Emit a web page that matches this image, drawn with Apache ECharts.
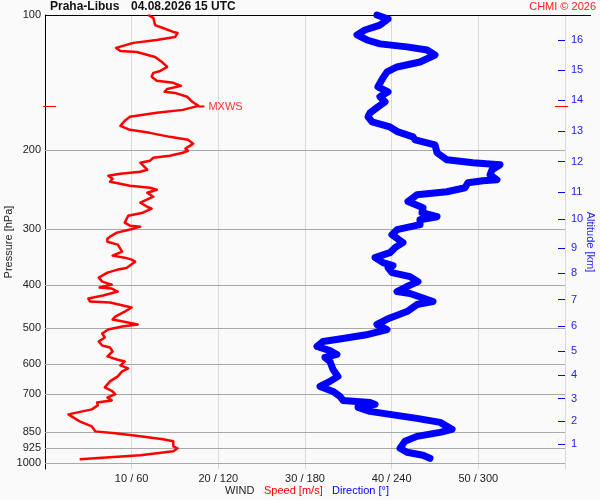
<!DOCTYPE html>
<html><head><meta charset="utf-8">
<script src="https://cdn.jsdelivr.net/npm/echarts@6/dist/echarts.min.js"></script>
<style>html,body{margin:0;padding:0;background:#fafafa}#c{width:600px;height:500px}</style>
</head><body><div id="c"></div>
<script>
// [pressure hPa, wind speed m/s]
const speedProfile = [[100,11.9],[101.5,12.5],[105.3,12.7],[106.9,13.6],[109.1,14.8],[109.7,15.3],[112.0,15.0],[113.7,12.9],[115.4,10.2],[118.4,8.2],[120.3,8.7],[120.9,10.6],[124.1,12.7],[127.3,13.5],[130.6,14.1],[133.3,13.3],[134.6,12.5],[137.4,12.3],[140.2,12.9],[141.7,14.8],[143.9,15.7],[146.2,14.1],[148.4,13.8],[149.2,15.0],[152.2,16.4],[156.2,17.0],[159.5,17.7],[162.8,15.9],[165.3,12.9],[168.7,9.8],[172.2,9.2],[176.7,8.7],[180.4,9.8],[183.2,12.1],[187.0,14.4],[189.9,16.5],[193.8,17.1],[196.8,16.5],[198.8,16.2],[200.8,16.5],[202.9,15.9],[206.0,14.4],[208.2,12.5],[211.5,12.1],[213.6,11.0],[215.8,10.8],[221.4,11.8],[223.7,11.0],[226.0,8.7],[228.4,7.3],[231.9,7.8],[235.5,7.5],[236.7,8.1],[240.4,9.8],[242.9,12.1],[245.4,12.9],[249.2,11.8],[254.3,12.5],[256.9,12.7],[262.2,11.0],[267.8,11.8],[270.5,12.3],[276.1,11.3],[280.4,9.6],[290.6,9.2],[295.1,9.8],[296.6,11.0],[299.7,10.2],[305.9,8.3],[312.3,7.5],[315.5,7.2],[320.4,7.2],[325.3,8.4],[337.2,8.9],[344.2,7.8],[347.8,9.2],[351.4,10.0],[355.0,10.4],[366.8,9.4],[369.8,8.4],[375.6,7.2],[385.4,6.2],[393.4,6.6],[399.4,7.7],[405.6,6.3],[407.7,7.7],[414.0,8.4],[422.5,6.7],[429.1,5.0],[435.8,5.2],[438.0,7.5],[449.4,10.0],[458.8,9.2],[470.8,8.1],[477.9,7.8],[482.9,9.0],[490.3,10.7],[495.4,8.9],[503.1,7.3],[513.5,6.6],[524.1,6.9],[535.0,6.2],[546.1,6.6],[551.7,7.5],[563.2,7.8],[577.7,7.2],[586.7,8.3],[592.8,9.2],[605.0,8.7],[614.4,9.6],[624.0,8.9],[640.1,8.4],[656.7,7.5],[677.3,6.9],[691.4,7.8],[702.1,8.1],[713.1,7.2],[724.1,7.7],[731.6,6.0],[742.9,6.1],[758.3,5.4],[766.1,5.2],[778.0,2.7],[786.0,2.5],[806.6,4.0],[827.6,5.4],[849.0,5.8],[857.6,8.1],[871.0,11.0],[884.4,13.6],[893.5,14.8],[916.7,14.8],[926.1,15.3],[940.3,14.8],[959.9,11.0],[969.7,7.5],[979.7,4.0]];

// [pressure hPa, wind direction deg]
const directionProfile = [[100,229.8],[102.1,237.5],[105.3,231.9],[108.0,221.5],[110.8,216.0],[113.7,222.9],[116.0,231.9],[117.8,250.6],[119.7,264.5],[122.8,270.0],[127.3,259.6],[130.6,243.7],[133.9,236.8],[138.1,234.0],[144.6,230.5],[148.4,237.5],[152.2,231.9],[156.2,235.4],[160.3,230.5],[165.3,225.0],[168.7,223.6],[173.1,226.4],[177.7,238.8],[182.3,244.4],[187.0,254.8],[189.9,256.2],[192.8,264.5],[194.8,270.0],[202.9,271.4],[210.4,278.3],[213.6,296.3],[215.8,315.0],[221.4,309.5],[227.2,308.1],[233.1,312.9],[234.3,303.2],[236.7,292.8],[242.9,290.8],[247.9,278.3],[251.7,257.5],[260.8,251.3],[269.1,261.7],[276.1,261.0],[281.8,271.4],[286.2,259.6],[293.6,259.6],[301.2,243.7],[309.0,240.2],[322.0,247.8],[330.4,242.3],[339.0,238.8],[347.8,228.5],[356.8,234.0],[362.4,240.9],[366.1,237.5],[375.6,240.2],[383.4,252.7],[393.4,258.2],[403.5,250.6],[414.0,243.7],[418.2,252.7],[435.8,268.6],[442.5,257.5],[458.8,250.6],[474.0,238.8],[490.3,229.8],[503.1,236.8],[516.1,223.6],[526.8,206.3],[535.0,192.5],[549.0,188.3],[560.5,197.3],[571.8,202.1],[580.7,193.8],[592.8,197.3],[617.5,199.4],[640.1,202.8],[656.7,197.3],[673.9,190.4],[691.4,199.4],[709.4,204.2],[724.1,206.3],[731.6,225.0],[739.1,228.5],[750.6,216.7],[766.1,225.0],[778.0,238.8],[794.1,257.5],[810.6,273.5],[840.2,281.8],[853.2,273.5],[871.0,257.5],[893.5,249.2],[926.1,245.8],[945.2,250.6],[959.9,261.7],[974.8,266.5]];

const pressureTicks = [100, 200, 300, 400, 500, 600, 700, 850, 925, 1000];
const speedTicks = [10, 20, 30, 40, 50];
const directionTicks = [60, 120, 180, 240, 300];
const altitudeKm = [1, 2, 3, 4, 5, 6, 7, 8, 9, 10, 11, 12, 13, 14, 15, 16];
const altitudePressure = [905.7, 806.2, 717.7, 636.8, 562.2, 494.6, 431.2, 376.1, 331.5, 285.7, 248.7, 212.5, 181.6, 154.7, 132.6, 113.7];

const FONT = '"Liberation Sans", Arial, Helvetica, sans-serif';
const P_MIN = 100, P_MAX = 1030;
const lg = Math.log10;
function nearestIdx(arr, v) {
  let bi = 0, bd = Infinity;
  arr.forEach((p, i) => { const d = Math.abs(lg(p) - v); if (d < bd) { bd = d; bi = i; } });
  return bi;
}

let mi = 0;
speedProfile.forEach((d, i) => { if (d[1] > speedProfile[mi][1]) mi = i; });

const chart = echarts.init(document.getElementById('c'));
chart.setOption({
  backgroundColor: '#fafafa',
  animation: false,
  textStyle: { fontFamily: FONT },
  grid: { left: 45, right: 35, top: 15, bottom: 31, containLabel: false, outerBoundsMode: 'none' },
  xAxis: [{
    type: 'value', min: 0, max: 60, interval: 10,
    axisLine: { show: false, onZero: false }, axisTick: { show: false },
    splitLine: { show: true, lineStyle: { color: '#d9d9d9', width: 1 } },
    axisLabel: {
      color: '#222', fontSize: 11, margin: 4, fontFamily: FONT,
      showMinLabel: false, showMaxLabel: false,
      formatter: v => { const i = speedTicks.indexOf(v); return i < 0 ? '' : speedTicks[i] + ' / ' + directionTicks[i]; }
    }
  }, {
    type: 'value', min: 0, max: 360, show: false, axisLine: { onZero: false }
  }],
  yAxis: [{
    type: 'value', inverse: true, min: lg(P_MIN), max: lg(P_MAX), position: 'left',
    axisLine: { show: true, onZero: false, lineStyle: { color: '#000', width: 1 } },
    axisTick: { show: false },
    splitLine: { show: false },
    axisLabel: {
      color: '#222', fontSize: 11, margin: 4, fontFamily: FONT,
      customValues: pressureTicks.map(lg),
      formatter: v => String(pressureTicks[nearestIdx(pressureTicks, v)])
    },
    name: 'Pressure [hPa]', nameLocation: 'middle', nameRotate: 90, nameGap: 31, nameMoveOverlap: false,
    nameTextStyle: { color: '#222', fontSize: 11, fontFamily: FONT }
  }, {
    type: 'value', inverse: true, min: lg(P_MIN), max: lg(P_MAX), position: 'right',
    axisLine: { show: true, onZero: false, lineStyle: { color: '#d9d9d9', width: 1 } },
    axisTick: { show: true, inside: true, length: 7, customValues: altitudePressure.map(lg), lineStyle: { color: '#0000ff', width: 1 } },
    splitLine: { show: false },
    axisLabel: {
      color: '#2020ff', fontSize: 11, margin: 6, fontFamily: FONT,
      customValues: altitudePressure.map(lg),
      formatter: v => String(altitudeKm[nearestIdx(altitudePressure, v)])
    },
    name: 'Altitude [km]', nameLocation: 'middle', nameRotate: -90, nameGap: 20, nameMoveOverlap: false,
    nameTextStyle: { color: '#2020ff', fontSize: 11, fontFamily: FONT }
  }],
  series: [{
    type: 'custom', silent: true, z: 1, clip: false,
    xAxisIndex: 0, yAxisIndex: 0,
    data: pressureTicks.map(p => [0, lg(p)]),
    renderItem(params, api) {
      const cs = params.coordSys;
      const y = Math.round(api.coord([0, api.value(1)])[1]) + 0.5;
      const isTop = params.dataIndex === 0;
      return {
        type: 'line',
        shape: { x1: cs.x, y1: y, x2: cs.x + cs.width + (isTop ? 26 : 0), y2: y },
        style: { stroke: isTop ? '#000' : '#a8a8a8', lineWidth: 1 }
      };
    }
  }, {
    name: 'Direction', type: 'line', xAxisIndex: 1, yAxisIndex: 0, z: 3,
    showSymbol: false, clip: false, smooth: false,
    data: directionProfile.map(d => [d[1], lg(d[0])]),
    lineStyle: { color: '#0000ff', width: 7, cap: 'round', join: 'round' }
  }, {
    name: 'Speed', type: 'line', xAxisIndex: 0, yAxisIndex: 0, z: 4,
    showSymbol: false, clip: false, smooth: false,
    data: speedProfile.map(d => [d[1], lg(d[0])]),
    lineStyle: { color: '#ff0000', width: 2.5, join: 'round' }
  }, {
    type: 'custom', silent: true, z: 5, clip: false,
    xAxisIndex: 0, yAxisIndex: 0,
    data: [[speedProfile[mi][1], lg(speedProfile[mi][0])]],
    renderItem(params, api) {
      const cs = params.coordSys;
      const pt = api.coord([api.value(0), api.value(1)]);
      const y = Math.round(pt[1]) + 0.5;
      return {
        type: 'group', children: [
          { type: 'line', shape: { x1: cs.x - 2, y1: y, x2: cs.x + 11, y2: y }, style: { stroke: '#ff0000', lineWidth: 1 } },
          { type: 'line', shape: { x1: cs.x + cs.width - 10, y1: y, x2: cs.x + cs.width + 3, y2: y }, style: { stroke: '#ff0000', lineWidth: 1 } },
          { type: 'line', shape: { x1: pt[0], y1: y, x2: pt[0] + 6, y2: y }, style: { stroke: '#ff0000', lineWidth: 2 } },
          { type: 'text', x: pt[0] + 10, y: y, style: { text: 'MXWS', fill: '#ff3030', font: '11px ' + FONT, verticalAlign: 'middle', textAlign: 'left' } }
        ]
      };
    }
  }],
  graphic: [
    { type: 'text', left: 50, top: 1, style: { text: 'Praha-Libus', fill: '#111', font: 'bold 12px ' + FONT } },
    { type: 'text', left: 131, top: 1, style: { text: '04.08.2026 15 UTC', fill: '#111', font: 'bold 12px ' + FONT } },
    { type: 'text', right: 4, top: 1, style: { text: 'CHMI © 2026', fill: '#ff2020', font: '11px ' + FONT } },
    { type: 'text', left: 225, top: 485, style: { text: 'WIND', fill: '#222', font: '11px ' + FONT } },
    { type: 'text', left: 264, top: 485, style: { text: 'Speed [m/s]', fill: '#ff0000', font: '11px ' + FONT } },
    { type: 'text', left: 332, top: 485, style: { text: 'Direction [°]', fill: '#0000ff', font: '11px ' + FONT } }
  ]
});
</script>
</body></html>
